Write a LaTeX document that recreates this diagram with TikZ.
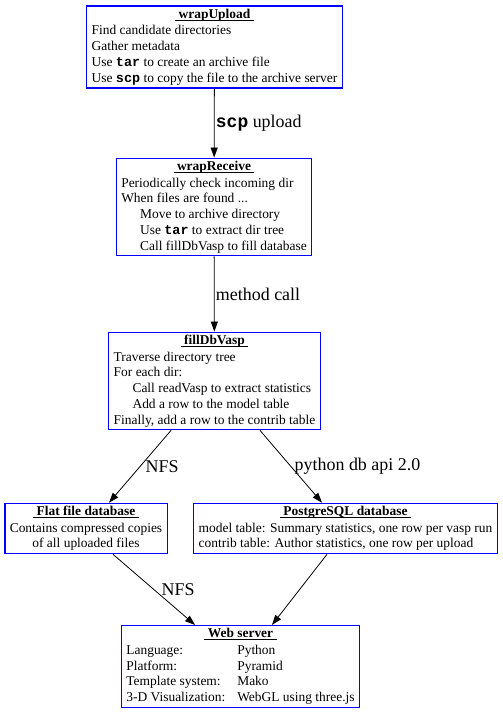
\documentclass[tikz,border=0pt]{standalone}
\usepackage{fontspec}
\setmainfont{Liberation Serif}
\setmonofont{Liberation Mono}
\usetikzlibrary{arrows.meta}
\newcommand\titleline[1]{\setbox0\hbox{\textbf{\ #1\ }}\rlap{\rule[-2.3bp]{\wd0}{0.7bp}}\box0}
\newcommand\boxtitle[1]{\multicolumn{1}{c}{\titleline{#1}}}
\newcommand\cmd[1]{\texttt{\textbf{#1}}}
\newcommand\ind{\hspace*{1.4em}}
\tikzstyle{module}=[draw=blue,line width=1.4bp,inner xsep=5bp,inner ysep=1bp,font=\fontsize{13.5}{15.8}\selectfont]
\tikzstyle{flow}=[line width=.8bp,-{Triangle[length=10bp,width=7bp]}]
\tikzstyle{lbl}=[font=\fontsize{18}{20}\selectfont]
\begin{document}
\begin{tikzpicture}[x=1bp,y=-1bp]
	\useasboundingbox (0,0) rectangle (503,715);
	\node[module] (upload) at (214.5,47) {\begin{tabular}{@{}l@{}}
		\boxtitle{wrapUpload}\\[1bp]
		Find candidate directories\\
		Gather metadata\\
		Use \cmd{tar} to create an archive file\\
		Use \cmd{scp} to copy the file to the archive server
	\end{tabular}};
	\node[module] (receive) at (214,207) {\begin{tabular}{@{}l@{}}
		\boxtitle{wrapReceive}\\[1bp]
		Periodically check incoming dir\\
		When files are found ...\\
		\ind Move to archive directory\\
		\ind Use \cmd{tar} to extract dir tree\\
		\ind Call fillDbVasp to fill database
	\end{tabular}};
	\node[module] (filldb) at (214.5,381) {\begin{tabular}{@{}l@{}}
		\boxtitle{fillDbVasp}\\[1bp]
		Traverse directory tree\\
		For each dir:\\
		\ind Call readVasp to extract statistics\\
		\ind Add a row to the model table\\
		Finally, add a row to the contrib table
	\end{tabular}};
	\node[module] (flat) at (86,528.5) {\begin{tabular}{@{}c@{}}
		\titleline{Flat file database}\\[1bp]
		Contains compressed copies\\
		of all uploaded files
	\end{tabular}};
	\node[module] (pgsql) at (345.5,528.5) {\begin{tabular}{@{}l@{}}
		\boxtitle{PostgreSQL database}\\[1bp]
		model table: Summary statistics, one row per vasp run\\
		contrib table: Author statistics, one row per upload
	\end{tabular}};
	\node[module] (web) at (240.5,666.5) {\begin{tabular}{@{}l@{\hspace{12bp}}l@{}}
		\multicolumn{2}{c}{\titleline{Web server}}\\[1bp]
		Language: & Python\\
		Platform: & Pyramid\\
		Template system: & Mako\\
		3-D Visualization: & WebGL using three.js
	\end{tabular}};
	\draw[flow] (upload) --node[lbl,right,xshift=-2bp]{\cmd{scp} upload} (receive);
	\draw[flow] (receive) --node[lbl,right,xshift=-2bp]{method call} (filldb);
	\draw[flow] ([xshift=-43.5bp]filldb.south) --node[lbl,right,xshift=2bp]{NFS} ([xshift=23bp]flat.north);
	\draw[flow] ([xshift=45.5bp]filldb.south) --node[lbl,right]{python db api 2.0} ([xshift=-23.5bp]pgsql.north);
	\draw[flow] ([xshift=27bp]flat.south) --node[lbl,right,xshift=4bp]{NFS} ([xshift=-45.5bp]web.north);
	\draw[flow] ([xshift=-18.5bp]pgsql.south) -- ([xshift=31.5bp]web.north);
\end{tikzpicture}
\end{document}
